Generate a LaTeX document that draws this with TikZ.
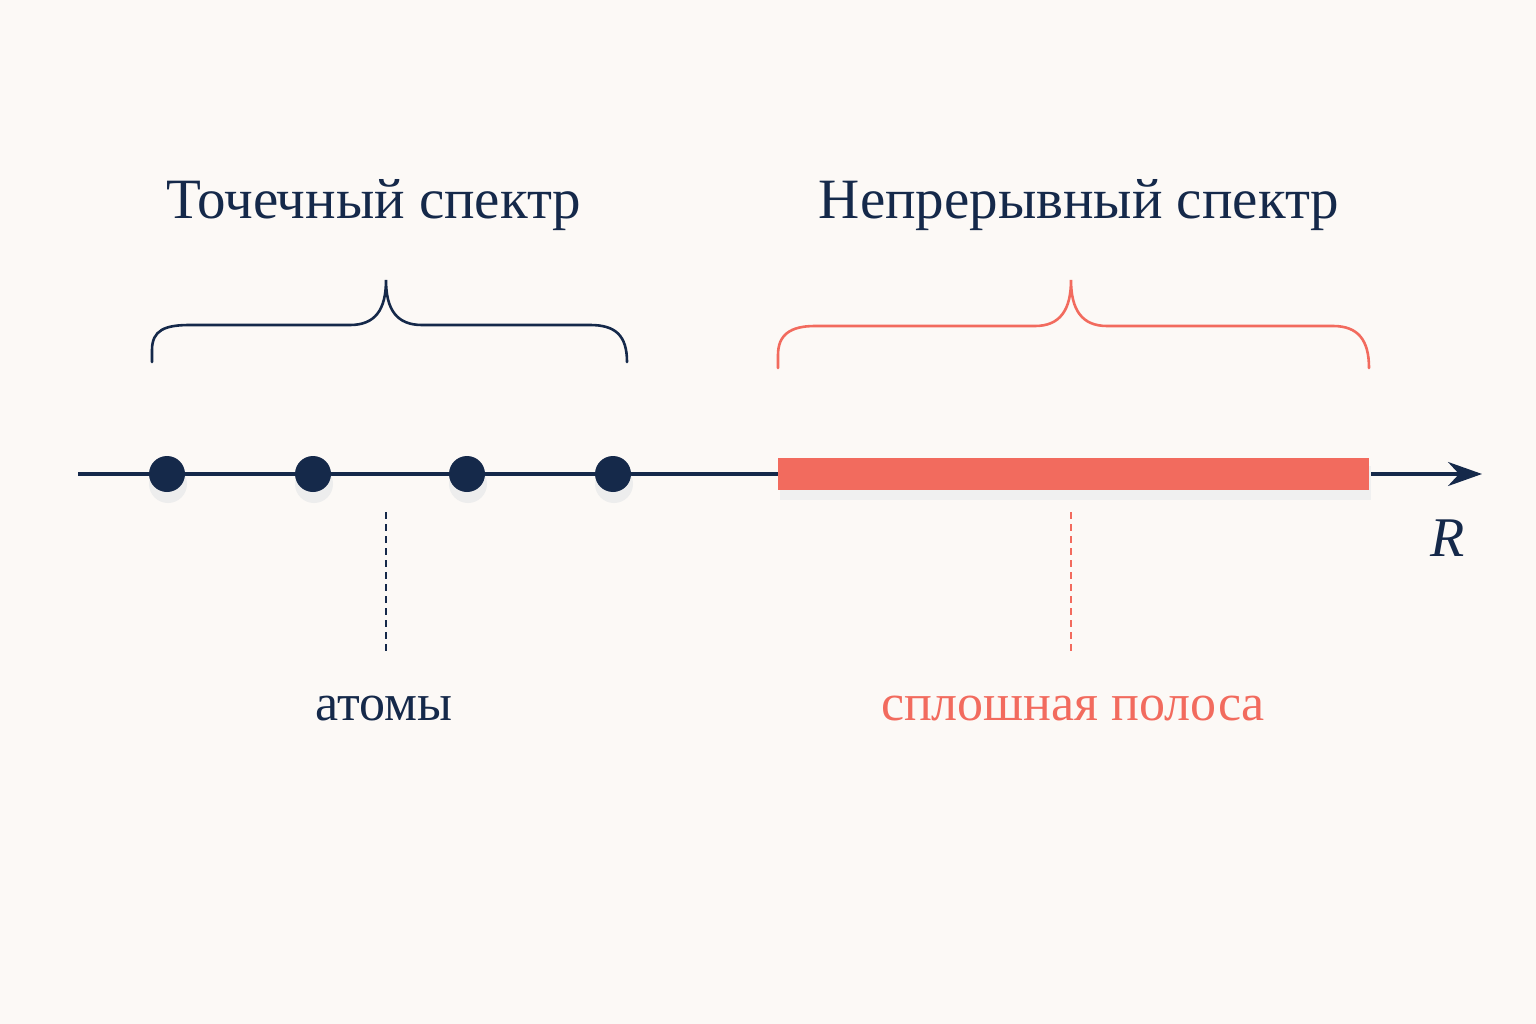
\documentclass[tikz,border=0pt]{standalone}
\usepackage{fontspec}
\setmainfont{Liberation Serif}
\usetikzlibrary{arrows.meta}
\definecolor{navy}{HTML}{15294A}
\definecolor{coral}{HTML}{F26B5E}
\definecolor{bg}{HTML}{FCF9F6}
\begin{document}
\begin{tikzpicture}[x=1pt,y=-1pt,
  dot/.style={circle,fill=navy,minimum size=36pt,inner sep=0pt},
  brace/.style={line width=2.6pt,line cap=round},
  leader/.style={line width=1.6pt,dash pattern=on 7pt off 5pt},
  title/.style={font=\fontsize{57}{64}\selectfont,text=navy}]
\fill[bg] (0,0) rectangle (1536,1024);
\useasboundingbox (0,0) rectangle (1536,1024);
% axis
\coordinate (a0) at (78,474);
\coordinate (a1) at (1482,474);
\draw[navy,line width=3.5pt,-{Stealth[length=34pt,width=24pt]}] (a0) -- (a1);
\fill[black!6] (780,466) rectangle (1371,500);
\fill[coral] (778,458) rectangle (1369,490);
\foreach \x [count=\i] in {167,313,467,613}{
  \fill[black!7] (\x+1,484) circle (19pt);
  \node[dot] (d\i) at (\x,474) {};}
% braces
\draw[brace,navy] (152,362) -- (152,350) .. controls (152,330) and (165,325) .. (190,325)
  -- (350,325) .. controls (375,325) and (386,310) .. (386,280)
  .. controls (386,310) and (397,325) .. (422,325) -- (590,325)
  .. controls (615,325) and (627,335) .. (627,362);
\draw[brace,coral] (778,368) -- (778,355) .. controls (778,335) and (790,326) .. (815,326)
  -- (1035,326) .. controls (1060,326) and (1071,310) .. (1071,280)
  .. controls (1071,310) and (1082,326) .. (1107,326) -- (1333,326)
  .. controls (1358,326) and (1369,340) .. (1369,368);
% dashed leaders
\coordinate (l1) at (386,512); \coordinate (l2) at (386,652);
\coordinate (r1) at (1071,512); \coordinate (r2) at (1071,652);
\draw[leader,navy] (l1) -- (l2);
\draw[leader,coral] (r1) -- (r2);
% texts
\node[title] (t1) at (374,205) {Точечный спектр};
\node[title] (t2) at (1079,205) {Непрерывный спектр};
\node[font=\fontsize{52}{58}\selectfont,text=navy] (lab1) at (384,708) {атомы};
\node[font=\fontsize{52}{58}\selectfont,text=coral] (lab2) at (1073,708) {сплошная полоса};
\node[font=\itshape\fontsize{56}{62}\selectfont,text=navy] (R) at (1448,538) {R};
\end{tikzpicture}
\end{document}
